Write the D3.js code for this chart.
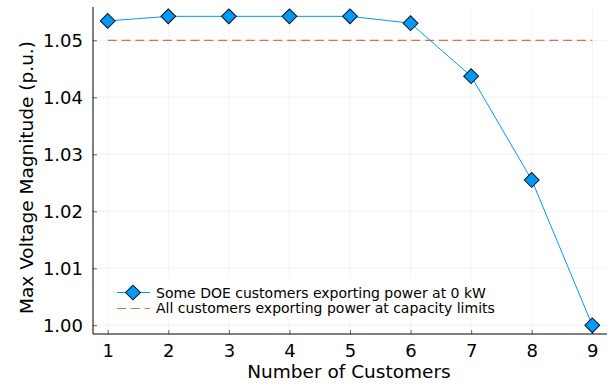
<!DOCTYPE html>
<html><head><meta charset="utf-8">
<script src="https://cdn.jsdelivr.net/npm/d3@7"></script>
<style>body{margin:0;background:#fff}svg{display:block;font-family:"DejaVu Sans",sans-serif}</style>
</head><body><svg id="c" width="614" height="386"></svg>
<script>
const customers = [1,2,3,4,5,6,7,8,9];
const maxVoltage = [1.0534,1.0542,1.0542,1.0542,1.0542,1.0530,1.0437,1.0255,1.0000];
const limitValue = 1.05;
const xTicks = [1,2,3,4,5,6,7,8,9];
const yTicks = [1.00,1.01,1.02,1.03,1.04,1.05];
const seriesNames = ["Some DOE customers exporting power at 0 kW","All customers exporting power at capacity limits"];

const svg = d3.select("#c");
const L=93,R=607,T=7,B=334;
const x = d3.scaleLinear().domain([0.757,9.243]).range([L,R]);
const y = d3.scaleLinear().domain([0.99847,1.05584]).range([B,T]);
const blue="#009af9", red="#e26f46";

// grid
svg.append("g").selectAll("line").data(xTicks).join("line")
 .attr("x1",d=>x(d)).attr("x2",d=>x(d)).attr("y1",T).attr("y2",B)
 .attr("stroke","#000").attr("stroke-opacity",0.1).attr("stroke-width",0.5);
svg.append("g").selectAll("line").data(yTicks).join("line")
 .attr("y1",d=>y(d)).attr("y2",d=>y(d)).attr("x1",L).attr("x2",R)
 .attr("stroke","#000").attr("stroke-opacity",0.1).attr("stroke-width",0.5);

// axes
const xa = svg.append("g").attr("transform",`translate(0,${B})`)
 .call(d3.axisBottom(x).tickValues(xTicks).tickFormat(d3.format("d")).tickSize(-4).tickPadding(10));
const ya = svg.append("g").attr("transform",`translate(${L},0)`)
 .call(d3.axisLeft(y).tickValues(yTicks).tickFormat(d3.format(".2f")).tickSize(-4).tickPadding(10));
[xa,ya].forEach(a=>{
 a.select(".domain").attr("stroke","#000").attr("stroke-width",1);
 a.selectAll(".tick line").attr("stroke","#000").attr("stroke-opacity",0.6);
 a.selectAll("text").attr("font-size",18).attr("fill","#000").attr("font-family","DejaVu Sans");
});
xa.selectAll(".tick text").attr("y",23).attr("dy",0);
ya.selectAll(".tick text").attr("x",-10).attr("dy","0.36em");
xa.select(".domain").attr("d",`M${L},0H${R}`);
ya.select(".domain").attr("d",`M0,${B}V${T}`);

// limit line
svg.append("line").attr("x1",x(1)).attr("x2",x(9)).attr("y1",y(limitValue)).attr("y2",y(limitValue))
 .attr("stroke",red).attr("stroke-width",1.2).attr("stroke-dasharray","9,4.8");

// series
svg.append("path").datum(customers.map((c,i)=>[c,maxVoltage[i]]))
 .attr("d",d3.line().x(d=>x(d[0])).y(d=>y(d[1])))
 .attr("fill","none").attr("stroke",blue).attr("stroke-width",1);
const dsym = d3.symbol().type(d3.symbolSquare).size(110);
svg.append("g").selectAll("path").data(customers).join("path")
 .attr("d",dsym).attr("transform",(d,i)=>`translate(${x(d)},${y(maxVoltage[i])}) rotate(45)`)
 .attr("fill",blue).attr("stroke","#111").attr("stroke-width",1);

// legend
const lg = svg.append("g");
lg.append("rect").attr("x",112).attr("y",278).attr("width",392).attr("height",40).attr("fill","#fff");
lg.append("line").attr("x1",117).attr("x2",150).attr("y1",292.5).attr("y2",292.5).attr("stroke",blue);
lg.append("path").attr("d",dsym).attr("transform","translate(133,292.5) rotate(45)")
 .attr("fill",blue).attr("stroke","#111");
lg.append("line").attr("x1",117).attr("x2",150).attr("y1",308.5).attr("y2",308.5).attr("stroke",red).attr("stroke-width",1.2).attr("stroke-dasharray","9,4.8");
lg.selectAll("text").data(seriesNames).join("text")
 .attr("x",156).attr("y",(d,i)=>292.5+i*15.5).attr("dy","0.36em").attr("font-size",14).attr("fill","#000").text(d=>d);

// axis titles
svg.append("text").attr("x",349).attr("y",378).attr("text-anchor","middle").attr("font-size",18.5).text("Number of Customers");
svg.append("text").attr("transform","translate(33,177.5) rotate(-90)").attr("text-anchor","middle").attr("font-size",18.5).text("Max Voltage Magnitude (p.u.)");
</script></body></html>
